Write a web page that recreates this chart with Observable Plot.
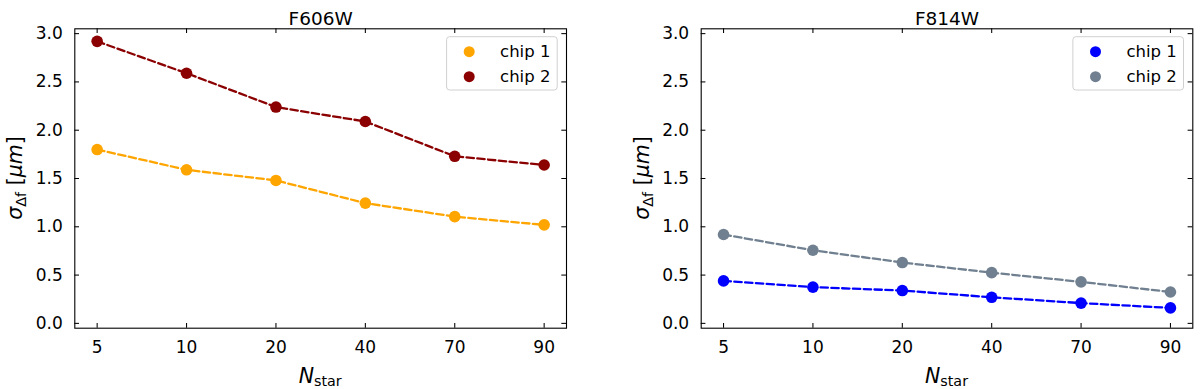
<!DOCTYPE html>
<html><head><meta charset="utf-8">
<script src="https://cdn.jsdelivr.net/npm/d3@7"></script>
<script src="https://cdn.jsdelivr.net/npm/@observablehq/plot@0.6"></script>
<style>
body{margin:0;background:#fff;}
#wrap{display:flex;width:1200px;height:389px;overflow:hidden;}
svg{font-family:"DejaVu Sans",sans-serif;background:#fff;}
</style></head><body><div id="wrap"></div>
<script>
// ---- data ----
const nStarLabels = ["5", "10", "20", "40", "70", "90"];
const yTickValues = [0, 0.5, 1.0, 1.5, 2.0, 2.5, 3.0];
const panelTitles = ["F606W", "F814W"];
const seriesNames = ["chip 1", "chip 2"];
const f606wChip1 = [1.80, 1.59, 1.48, 1.245, 1.105, 1.02];
const f606wChip2 = [2.92, 2.59, 2.24, 2.09, 1.73, 1.64];
const f814wChip1 = [0.44, 0.375, 0.34, 0.27, 0.21, 0.16];
const f814wChip2 = [0.92, 0.757, 0.63, 0.525, 0.43, 0.325];
const f606wColors = ["#FFA500", "#8B0000"];
const f814wColors = ["#0000FF", "#708090"];

const W = 600, H = 389, MT = 28.3, MB = 61.3;
const FH = H - MT - MB;
const idx = nStarLabels.map((_, i) => i);

function panel(title, seriesVals, colors, ml, mr) {
  const series = seriesVals.map((vals, k) => ({
    name: seriesNames[k], color: colors[k],
    rows: vals.map((v, i) => ({i, v}))
  }));
  const marks = [
    Plot.axisX(idx, {tickSize: 0, tickPadding: 13, tickFormat: i => nStarLabels[i], label: null, fontSize: 17}),
    Plot.axisY(yTickValues, {tickSize: 0, tickPadding: 12, tickFormat: d3.format(".1f"), label: null, fontSize: 17}),
    Plot.tickX(idx, {x: d => d, insetTop: FH - 4.7, stroke: "#000", strokeWidth: 1.05}),
    Plot.tickX(idx, {x: d => d, insetBottom: FH - 4.7, stroke: "#000", strokeWidth: 1.05}),
    Plot.tickY(yTickValues, {y: d => d, insetRight: W - ml - mr - 4.7, stroke: "#000", strokeWidth: 1.05}),
    Plot.tickY(yTickValues, {y: d => d, insetLeft: W - ml - mr - 4.7, stroke: "#000", strokeWidth: 1.05}),
  ];
  for (const s of series) {
    marks.push(Plot.line(s.rows, {x: "i", y: "v", stroke: s.color, strokeWidth: 2.3, strokeDasharray: "7.4,3.4"}));
    marks.push(Plot.dot(s.rows, {x: "i", y: "v", fill: s.color, r: 5.8}));
  }
  marks.push(Plot.frame({stroke: "#000", strokeWidth: 1.1}));
  marks.push(Plot.text([title], {frameAnchor: "top", dy: -16.5, fontSize: 18.5, fill: "#000"}));
  const chart = Plot.plot({
    width: W, height: H, marginTop: MT, marginBottom: MB, marginLeft: ml, marginRight: mr,
    style: {fontFamily: "DejaVu Sans", fontSize: "17px", color: "#000", background: "#fff"},
    x: {type: "linear", domain: [-0.25, 5.25]},
    y: {domain: [-0.05, 3.05]},
    marks
  });
  const svg = d3.select(chart);
  const cx = ml + (W - ml - mr) / 2;
  // x label: N_star
  const xl = svg.append("text").attr("x", cx).attr("y", 382.5).attr("text-anchor", "middle")
    .attr("font-size", 20.5).attr("fill", "#000");
  xl.append("tspan").attr("font-style", "italic").text("N");
  xl.append("tspan").attr("font-size", 14.3).attr("dy", 3).text("star");
  // y label: σ_Δf [μm]
  const yx = ml - 52, yy = MT + FH / 2;
  const yl = svg.append("text").attr("transform", `translate(${yx},${yy}) rotate(-90)`)
    .attr("text-anchor", "middle").attr("font-size", 20.5).attr("fill", "#000");
  yl.append("tspan").attr("font-style", "italic").text("σ");
  yl.append("tspan").attr("font-size", 14.3).attr("dy", 4).text("Δf");
  yl.append("tspan").attr("dy", -4).text(" [");
  yl.append("tspan").attr("font-style", "italic").text("μm");
  yl.append("tspan").text("]");
  // legend
  const frameRight = W - mr;
  const lw = 110.6, lh = 53.3;
  const lx = frameRight - 8.8 - lw, ly = MT + 8.4;
  const g = svg.append("g").attr("text-anchor", "start");
  g.append("rect").attr("x", lx).attr("y", ly).attr("width", lw).attr("height", lh).attr("rx", 3)
    .attr("fill", "#fff").attr("fill-opacity", 0.8).attr("stroke", "#d0d0d0").attr("stroke-width", 1);
  series.forEach((s, k) => {
    const yy2 = ly + 15 + k * 25;
    g.append("circle").attr("cx", lx + 22.6).attr("cy", yy2).attr("r", 5.5).attr("fill", s.color);
    g.append("text").attr("x", lx + 53.5).attr("y", yy2).attr("dy", "0.35em").attr("font-size", 16.5)
      .attr("text-anchor", "start").attr("fill", "#000").text(s.name);
  });
  return chart;
}

const wrap = document.getElementById("wrap");
wrap.appendChild(panel(panelTitles[0], [f606wChip1, f606wChip2], f606wColors, 74.3, 34));
wrap.appendChild(panel(panelTitles[1], [f814wChip1, f814wChip2], f814wColors, 100.7, 7.7));
</script></body></html>
